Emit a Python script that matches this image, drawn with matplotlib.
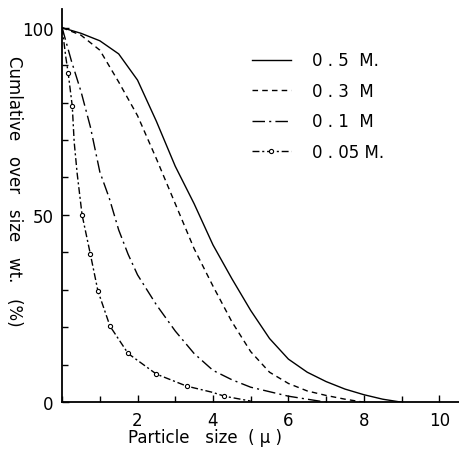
import matplotlib
matplotlib.use("Agg")
import matplotlib.pyplot as plt
from matplotlib.ticker import MultipleLocator, FixedLocator

plt.rcParams['font.family'] = ['DejaVu Sans']

# 0.5 M
x_05 = [0, 0.5, 1.0, 1.5, 2.0, 2.5, 3.0, 3.5, 4.0, 4.5, 5.0, 5.5, 6.0, 6.5, 7.0, 7.5, 8.0, 8.5, 9.0]
y_05 = [100, 98.5, 96.5, 93, 86, 75, 63, 53, 42, 33, 24.5, 17, 11.5, 8, 5.5, 3.5, 2, 0.8, 0]
# 0.3 M
x_03 = [0, 0.5, 1.0, 1.5, 2.0, 2.5, 3.0, 3.5, 4.0, 4.5, 5.0, 5.5, 6.0, 6.5, 7.0, 7.5, 8.0]
y_03 = [100, 98, 94, 85.5, 76.5, 65, 53, 41, 31, 21.5, 13.5, 8, 5, 3, 1.8, 0.8, 0]
# 0.1 M
x_01 = [0, 0.25, 0.5, 0.75, 1.0, 1.25, 1.5, 1.75, 2.0, 2.5, 3.0, 3.5, 4.0, 4.5, 5.0, 5.5, 6.0, 6.5, 7.0]
y_01 = [100, 91, 83, 73.5, 61.5, 54.5, 46, 39.5, 34, 26, 19, 13, 8.5, 6, 4, 2.8, 1.6, 0.8, 0]
# 0.05 M
x_005 = [0, 0.1, 0.16, 0.27, 0.32, 0.4, 0.53, 0.75, 0.95, 1.27, 1.75, 2.5, 3.3, 4.0, 4.3, 5.0]
y_005 = [100, 92, 88, 79, 69.5, 61, 50, 39.5, 29.7, 20.3, 13, 7.5, 4.3, 2.6, 1.6, 0.3]
marked_005 = [2, 3, 6, 7, 8, 9, 10, 11, 12, 14]

labels = ['0 . 5  M.', '0 . 3  M', '0 . 1  M', '0 . 05 M.']

fig = plt.figure(figsize=(4.6, 4.52), dpi=100)
ax = fig.add_axes([0.135, 0.108, 0.865, 0.87])

lw = 1.0
ax.plot(x_05, y_05, color='black', lw=lw, ls='-', label=labels[0])
ax.plot(x_03, y_03, color='black', lw=lw, ls=(0, (4, 3)), label=labels[1])
ax.plot(x_01, y_01, color='black', lw=lw, ls=(0, (9, 3, 1.5, 3)), label=labels[2])
ax.plot(x_005, y_005, color='black', lw=lw, ls=(0, (5, 2, 1.5, 2)),
        marker='o', markersize=3, markerfacecolor='white', markeredgewidth=0.8,
        markevery=marked_005, label=labels[3])

ax.set_xlim(0, 10.55)
ax.set_ylim(0, 105)
ax.spines['top'].set_visible(False)
ax.spines['right'].set_visible(False)
ax.spines['left'].set_linewidth(1.3)
ax.spines['bottom'].set_linewidth(1.3)

ax.xaxis.set_major_locator(FixedLocator([2, 4, 6, 8, 10]))
ax.xaxis.set_minor_locator(MultipleLocator(1))
ax.yaxis.set_major_locator(FixedLocator([0, 50, 100]))
ax.yaxis.set_minor_locator(MultipleLocator(10))
ax.tick_params(which='both', direction='in', width=1.0)
ax.tick_params(which='major', length=5, labelsize=12, pad=6)
ax.tick_params(which='minor', length=4)

ax.set_xlabel('Particle   size  ( μ )', fontsize=12, labelpad=2)
ax.xaxis.set_label_coords(0.36, -0.065)
ax.set_ylabel('Cumlative   over   size   wt.   (%)', fontsize=12, rotation=270,
              va='center', ha='center')
ax.yaxis.set_label_coords(-0.12, 0.54)

ax.legend(loc='upper left', bbox_to_anchor=(0.44, 0.93), frameon=False,
          handlelength=2.3, handletextpad=1.3, labelspacing=0.75, fontsize=12)

fig.savefig('out.png', dpi=100)
